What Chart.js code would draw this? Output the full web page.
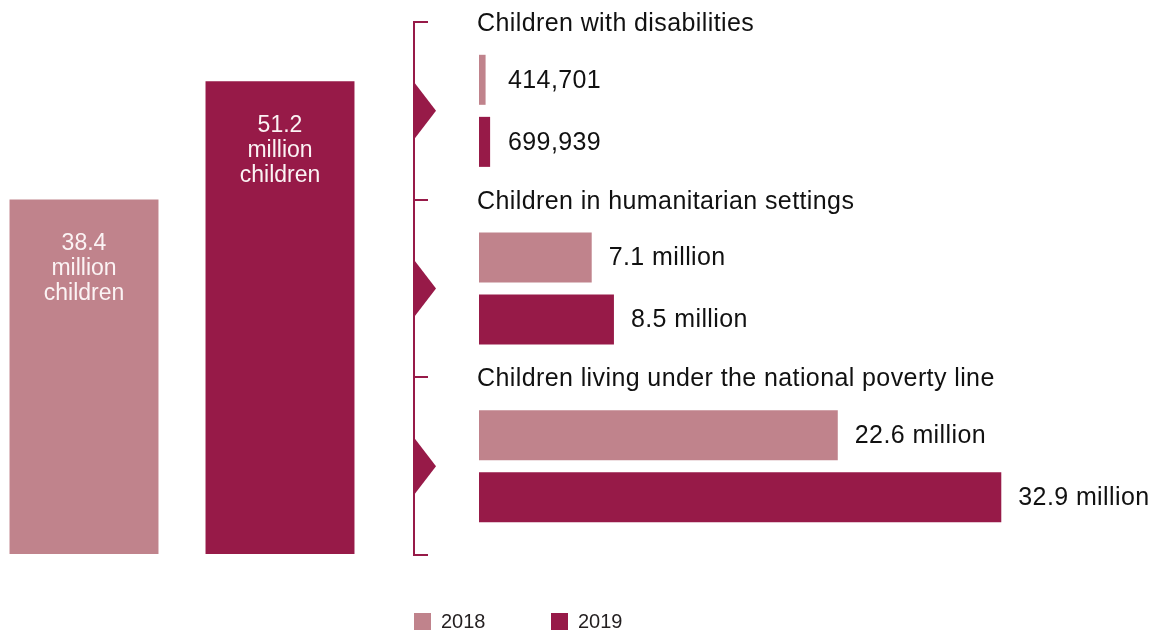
<!DOCTYPE html>
<html lang="en">
<head>
    <meta charset="UTF-8">
    <title>Children reached</title>
    <script src="https://cdn.jsdelivr.net/npm/chart.js"></script>
    <style>
        html, body { margin: 0; padding: 0; background: #fff; }
        body { width: 1153px; height: 632px; position: relative; overflow: hidden; }
        #groupChart { position: absolute; left: 0; top: 0; }
        #totalChart { position: absolute; left: -14px; top: 0; }
    </style>
</head>
<body>
    <canvas id="groupChart" width="1153" height="632"></canvas>
    <canvas id="totalChart" width="392" height="554"></canvas>

    <script>
        // data
        const years = ["2018", "2019"];
        const totals = [38.4, 51.2];               // million children
        const groups = [
            "Children with disabilities",
            "Children in humanitarian settings",
            "Children living under the national poverty line"
        ];
        const values2018 = [0.414701, 7.1, 22.6];  // million
        const values2019 = [0.699939, 8.5, 32.9];
        const labels2018 = ["414,701", "7.1 million", "22.6 million"];
        const labels2019 = ["699,939", "8.5 million", "32.9 million"];

        const light = "#c0838c";
        const dark = "#971a48";
        const font = "'Liberation Sans', Arial, sans-serif";

        // white text inside the two big bars
        const insideLabels = {
            id: "insideLabels",
            afterDatasetsDraw(chart) {
                const ctx = chart.ctx;
                ctx.save();
                ctx.fillStyle = "#fbf3f4";
                ctx.font = "23px " + font;
                ctx.textAlign = "center";
                ctx.textBaseline = "middle";
                chart.getDatasetMeta(0).data.forEach(function(bar, i) {
                    const lines = [totals[i].toFixed(1), "million", "children"];
                    lines.forEach(function(t, j) {
                        ctx.fillText(t, bar.x, bar.y + 44 + j * 25);
                    });
                });
                ctx.restore();
            }
        };

        new Chart(document.getElementById("totalChart"), {
            type: "bar",
            data: {
                labels: years,
                datasets: [{
                    data: totals,
                    backgroundColor: [light, dark],
                    categoryPercentage: 1,
                    barPercentage: 0.76
                }]
            },
            options: {
                responsive: false,
                animation: false,
                layout: { padding: 0 },
                plugins: { legend: { display: false }, tooltip: { enabled: false } },
                scales: {
                    x: { display: false },
                    y: { display: false, min: 0, max: 60 }
                }
            },
            plugins: [insideLabels]
        });

        // bracket, group titles, value labels and legend for the breakdown
        const breakdownDecor = {
            id: "breakdownDecor",
            afterDatasetsDraw(chart) {
                const ctx = chart.ctx;
                const area = chart.chartArea;
                const yScale = chart.scales.y;
                const step = (area.bottom - area.top) / groups.length;
                const bx = area.left - 65;

                ctx.save();
                // bracket
                ctx.strokeStyle = dark;
                ctx.fillStyle = dark;
                ctx.lineWidth = 2;
                ctx.beginPath();
                ctx.moveTo(bx, area.top);
                ctx.lineTo(bx, area.bottom);
                for (let i = 0; i <= groups.length; i++) {
                    const y = Math.round(area.top + i * step);
                    ctx.moveTo(bx - 1, y);
                    ctx.lineTo(bx + 14, y);
                }
                ctx.stroke();
                groups.forEach(function(g, i) {
                    const cy = yScale.getPixelForValue(i);
                    ctx.beginPath();
                    ctx.moveTo(bx - 1, cy - 30);
                    ctx.lineTo(bx + 22, cy);
                    ctx.lineTo(bx - 1, cy + 30);
                    ctx.closePath();
                    ctx.fill();
                });

                // group titles
                ctx.fillStyle = "#111";
                ctx.font = "25px " + font;
                ctx.letterSpacing = "0.4px";
                ctx.textAlign = "left";
                ctx.textBaseline = "middle";
                groups.forEach(function(g, i) {
                    ctx.fillText(g, area.left - 2, area.top + i * step + 2);
                });

                // value labels
                const texts = [labels2018, labels2019];
                [0, 1].forEach(function(d) {
                    chart.getDatasetMeta(d).data.forEach(function(bar, i) {
                        const x = Math.max(bar.x + 17, area.left + 29);
                        ctx.fillText(texts[d][i], x, bar.y + 1);
                    });
                });

                // legend
                ctx.letterSpacing = "0px";
                ctx.font = "20px " + font;
                const legendX = [414, 551];
                chart.data.datasets.forEach(function(ds, d) {
                    ctx.fillStyle = ds.backgroundColor;
                    ctx.fillRect(legendX[d], 613, 17, 17);
                    ctx.fillStyle = "#231f20";
                    ctx.fillText(ds.label, legendX[d] + 27, 622);
                });
                ctx.restore();
            }
        };

        new Chart(document.getElementById("groupChart"), {
            type: "bar",
            data: {
                labels: groups,
                datasets: [
                    { label: years[0], data: values2018, backgroundColor: light },
                    { label: years[1], data: values2019, backgroundColor: dark }
                ]
            },
            options: {
                indexAxis: "y",
                responsive: false,
                animation: false,
                categoryPercentage: 0.6986,
                barPercentage: 0.806,
                layout: { padding: { left: 479, right: 39, top: 22, bottom: 77 } },
                plugins: { legend: { display: false }, tooltip: { enabled: false } },
                scales: {
                    x: { display: false, min: 0, max: 40 },
                    y: { display: false }
                }
            },
            plugins: [breakdownDecor]
        });
    </script>
</body>
</html>
